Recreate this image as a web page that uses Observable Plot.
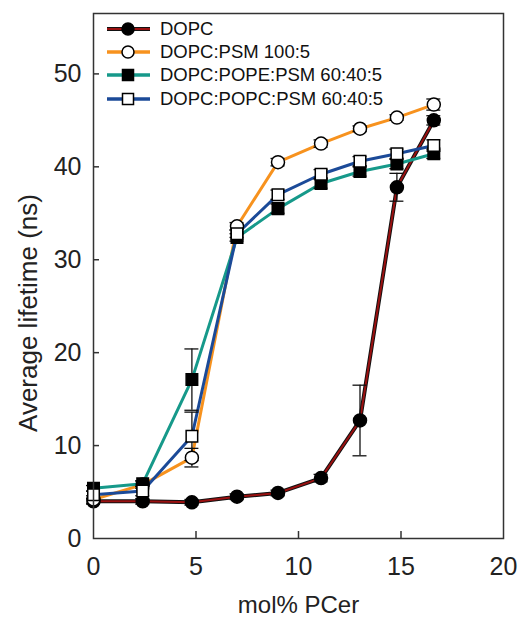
<!DOCTYPE html>
<html>
<head>
<meta charset="utf-8">
<script src="https://cdn.jsdelivr.net/npm/d3@7"></script>
<script src="https://cdn.jsdelivr.net/npm/@observablehq/plot@0.6"></script>
<style>
  body { margin: 0; background: #fff; font-family: "Liberation Sans", Arial, sans-serif; }
  #wrap { position: relative; width: 519px; height: 622px; }
  #legend { position: absolute; left: 107px; top: 17px; font-size: 18.5px; color: #111; }
  .row { display: flex; align-items: center; height: 23.4px; }
  .row svg { margin-right: 10px; }
</style>
</head>
<body>
<div id="wrap"><div id="legend"></div></div>
<script>
const xValues = [0, 2.4, 4.8, 7.0, 9.0, 11.1, 13.0, 14.8, 16.6];
const seriesNames = ["DOPC", "DOPC:PSM 100:5", "DOPC:POPE:PSM 60:40:5", "DOPC:POPC:PSM 60:40:5"];
const dopc      = [4.0, 4.0, 3.9, 4.5, 4.9, 6.5, 12.7, 37.8, 45.0];
const dopcErr   = [0.3, 0.3, 0.3, 0.3, 0.3, 0.4, 3.8, 1.5, 0.5];
const psm       = [4.2, 5.8, 8.7, 33.6, 40.5, 42.5, 44.1, 45.3, 46.7];
const psmErr    = [0.4, 0.4, 1.0, 0.4, 0.4, 0.4, 0.3, 0.3, 0.6];
const pope      = [5.4, 5.9, 17.1, 32.4, 35.5, 38.2, 39.5, 40.3, 41.4];
const popeErr   = [0.3, 0.3, 3.3, 0.4, 0.5, 0.5, 0.5, 0.5, 0.5];
const popc      = [4.7, 5.1, 11.0, 32.8, 37.0, 39.2, 40.6, 41.4, 42.3];
const popcErr   = [0.4, 0.5, 2.6, 0.4, 0.5, 0.5, 0.5, 0.5, 0.6];
const xTicks = [0, 5, 10, 15, 20];
const yTicks = [0, 10, 20, 30, 40, 50];
const xLabel = "mol% PCer";
const yLabel = "Average lifetime (ns)";

const colors = ["#9a1010", "#f7921e", "#16998a", "#1b4a98"];
const symbols = ["circle", "circle", "square", "square"];
const fills = ["#000", "#fff", "#000", "#fff"];
const allY = [dopc, psm, pope, popc];
const allE = [dopcErr, psmErr, popeErr, popcErr];

const series = seriesNames.map((name, s) =>
  xValues.map((x, i) => ({name, s, x, y: allY[s][i], e: allE[s][i]})));

const marks = [];
// inward ticks
marks.push(Plot.ruleX(xTicks.slice(1, -1), {stroke: "#333", strokeWidth: 1.5, insetTop: 518}));
marks.push(Plot.ruleY(yTicks.slice(1), {stroke: "#333", strokeWidth: 1.5, insetRight: 404}));
// tick labels
marks.push(Plot.axisX(xTicks, {tickSize: 0, tickPadding: 19, fontSize: 25, label: null, color: "#222"}));
marks.push(Plot.axisY(yTicks, {tickSize: 0, tickPadding: 12, fontSize: 25, label: null, color: "#222"}));
// axis titles
marks.push(Plot.text([xLabel], {frameAnchor: "bottom", dy: 74, fontSize: 24, fill: "#222"}));
marks.push(Plot.text([yLabel], {frameAnchor: "left", textAnchor: "middle", rotate: -90, dx: -65, dy: 37, fontSize: 26, fill: "#222"}));

series.forEach((data, s) => {
  if (s === 0) marks.push(Plot.line(data, {x: "x", y: "y", stroke: "#111", strokeWidth: 4}));
  marks.push(Plot.line(data, {x: "x", y: "y", stroke: colors[s], strokeWidth: s === 0 ? 2 : 3}));
});
series.forEach((data, s) => {
  marks.push(Plot.ruleX(data, {x: "x", y1: d => d.y - d.e, y2: d => d.y + d.e, stroke: "#111", strokeWidth: 1.3}));
  marks.push(Plot.ruleY(data, {y: d => d.y + d.e, x1: "x", x2: "x", insetLeft: -7, insetRight: -7, stroke: "#111", strokeWidth: 1.3}));
  marks.push(Plot.ruleY(data, {y: d => d.y - d.e, x1: "x", x2: "x", insetLeft: -7, insetRight: -7, stroke: "#111", strokeWidth: 1.3}));
});
series.forEach((data, s) => {
  marks.push(Plot.dot(data, {x: "x", y: "y", symbol: symbols[s], r: 6.5, fill: fills[s], stroke: "#000", strokeWidth: 1.5}));
});
marks.push(Plot.frame({stroke: "#333", strokeWidth: 1.5}));

const chart = Plot.plot({
  width: 519, height: 622,
  marginLeft: 93, marginRight: 16, marginTop: 13, marginBottom: 84,
  x: {domain: [0, 20]},
  y: {domain: [0, 56.5]},
  style: {fontFamily: "Liberation Sans, Arial, sans-serif", background: "#fff"},
  marks
});
document.getElementById("wrap").prepend(chart);

// legend
const leg = document.getElementById("legend");
seriesNames.forEach((name, s) => {
  const row = document.createElement("div");
  row.className = "row";
  const sym = symbols[s] === "circle"
    ? `<circle cx="21" cy="10" r="6" fill="${fills[s]}" stroke="#000" stroke-width="1.5"/>`
    : `<rect x="15.5" y="4.5" width="11" height="11" fill="${fills[s]}" stroke="#000" stroke-width="1.5"/>`;
  row.innerHTML = `<svg width="43" height="20">${s === 0 ? '<line x1="0" y1="10" x2="43" y2="10" stroke="#111" stroke-width="4"/>' : ''}<line x1="0" y1="10" x2="43" y2="10" stroke="${colors[s]}" stroke-width="${s === 0 ? 2 : 3.5}"/>${sym}</svg><span>${name}</span>`;
  leg.appendChild(row);
});
</script>
</body>
</html>
